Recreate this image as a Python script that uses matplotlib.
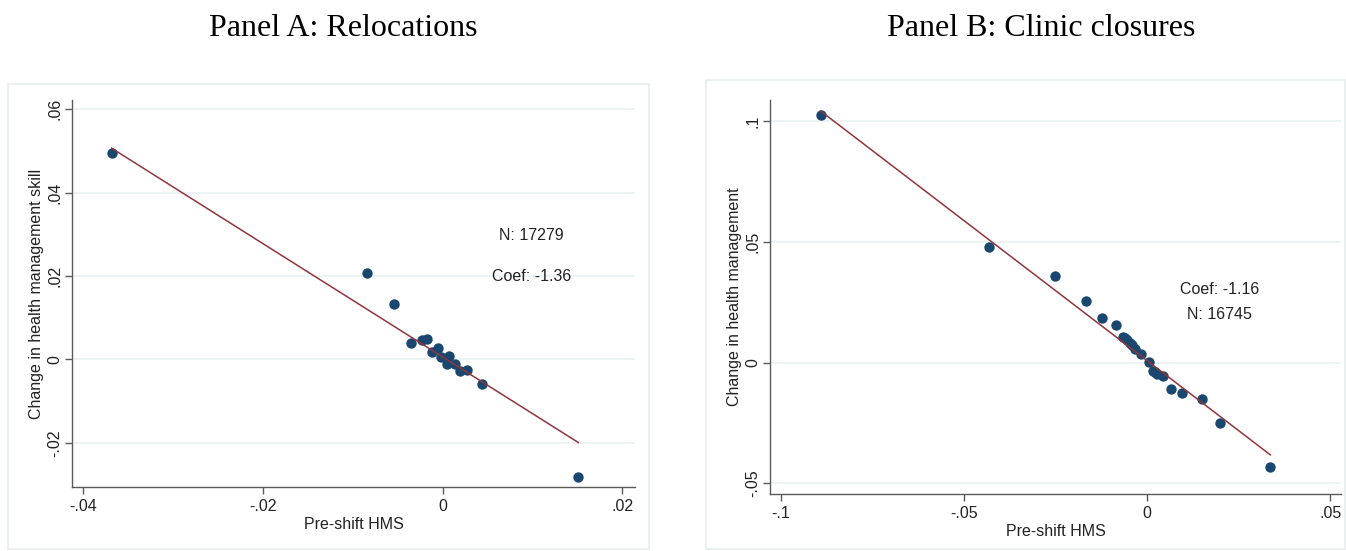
import numpy as np
import matplotlib.pyplot as plt
from matplotlib.patches import Rectangle

plt.rcParams['font.family'] = ['Liberation Sans', 'DejaVu Sans']

# Panel A: relocations (binned scatter)
a_x = [-0.0368, -0.0084, -0.0054, -0.0035, -0.0023, -0.0017, -0.0012, -0.0005,
       -0.0002, 0.0007, 0.0005, 0.0014, 0.0019, 0.0027, 0.0044, 0.0151]
a_y = [0.0496, 0.0208, 0.0133, 0.0039, 0.0047, 0.0049, 0.0017, 0.0028,
       0.0006, 0.0009, -0.0010, -0.0010, -0.0028, -0.0026, -0.0059, -0.0282]
a_slope, a_intercept = -1.36, 0.0006
a_n = 17279
a_xticks = [-0.04, -0.02, 0, 0.02]
a_xlabels = ['-.04', '-.02', '0', '.02']
a_yticks = [-0.02, 0, 0.02, 0.04, 0.06]
a_ylabels = ['-.02', '0', '.02', '.04', '.06']

# Panel B: clinic closures
b_x = [-0.0891, -0.0432, -0.0251, -0.0168, -0.0123, -0.0086, -0.0067, -0.0060,
       -0.0055, -0.0046, -0.0040, -0.0032, -0.0016, 0.0004, 0.0015, 0.0022,
       0.0027, 0.0044, 0.0064, 0.0095, 0.0149, 0.0200, 0.0336]
b_y = [0.1023, 0.0477, 0.0360, 0.0257, 0.0184, 0.0156, 0.0105, 0.0102,
       0.0094, 0.0083, 0.0073, 0.0055, 0.0034, 0.0001, -0.0033, -0.0040,
       -0.0047, -0.0054, -0.0110, -0.0127, -0.0150, -0.0251, -0.0431]
b_slope, b_intercept = -1.16, 0.0008
b_n = 16745
b_xticks = [-0.1, -0.05, 0, 0.05]
b_xlabels = ['-.1', '-.05', '0', '.05']
b_yticks = [-0.05, 0, 0.05, 0.1]
b_ylabels = ['-.05', '0', '.05', '.1']

navy = '#1a476f'
maroon = '#90353b'
grid_col = '#eaf0f2'
axis_col = '#5a5a5a'

fig = plt.figure(figsize=(13.46, 5.51), dpi=100)
W, H = 1346, 551


def fx(px):
    return px / W


def fy(py):
    return 1 - py / H


# panel frames
fig.patches.append(Rectangle((fx(8), fy(549)), fx(649 - 8), (549 - 84) / H,
                             transform=fig.transFigure, fill=False,
                             edgecolor='#e6ecee', lw=1.2))
fig.patches.append(Rectangle((fx(706), fy(549)), fx(1345 - 706), (549 - 80) / H,
                             transform=fig.transFigure, fill=False,
                             edgecolor='#e6ecee', lw=1.2))

fig.text(fx(343), fy(28), 'Panel A: Relocations', family='Liberation Serif',
         fontsize=23, ha='center', va='center')
fig.text(fx(1041), fy(28), 'Panel B: Clinic closures', family='Liberation Serif',
         fontsize=23, ha='center', va='center')


def panel(rect, xs, ys, slope, icpt, xlim, ylim, xt, xl, yt, yl, ylab, texts):
    ax = fig.add_axes(rect)
    ax.set_xlim(xlim)
    ax.set_ylim(ylim)
    for v in yt:
        ax.axhline(v, color=grid_col, lw=1.2, zorder=0)
    ax.scatter(xs, ys, s=56, color=navy, zorder=3, linewidths=0)
    lx = np.array([min(xs), max(xs)])
    ax.plot(lx, icpt + slope * lx, color=maroon, lw=1.1, zorder=4)
    ax.set_xticks(xt)
    ax.set_xticklabels(xl)
    ax.set_yticks(yt)
    ax.set_yticklabels(yl, rotation=90, va='center')
    for s in ['top', 'right']:
        ax.spines[s].set_visible(False)
    for s in ['left', 'bottom']:
        ax.spines[s].set_color(axis_col)
        ax.spines[s].set_linewidth(1.0)
    ax.tick_params(colors=axis_col, labelcolor='#222222', labelsize=11.5,
                   length=5, width=1.0)
    ax.tick_params(axis='y', pad=2)
    ax.set_xlabel('Pre-shift HMS', fontsize=11.5, color='#222222', labelpad=2)
    ax.set_ylabel(ylab, fontsize=11.5, color='#222222', labelpad=2)
    for (tx, ty, s) in texts:
        ax.text(tx, ty, s, fontsize=11.5, ha='center', va='center', color='#222222')
    return ax


panel([fx(72), fy(487), fx(635 - 72), (487 - 100) / H],
      a_x, a_y, a_slope, a_intercept,
      (-0.0412, 0.0214), (-0.0306, 0.0622),
      a_xticks, a_xlabels, a_yticks, a_ylabels,
      'Change in health management skill',
      [(0.0099, 0.0296, f'N: {a_n}'), (0.0099, 0.0198, f'Coef: {a_slope:.2f}')])

panel([fx(770), fy(494), fx(1341 - 770), (494 - 100) / H],
      b_x, b_y, b_slope, b_intercept,
      (-0.1029, 0.0529), (-0.0544, 0.1087),
      b_xticks, b_xlabels, b_yticks, b_ylabels,
      'Change in health management',
      [(0.0198, 0.0301, f'Coef: {b_slope:.2f}'), (0.0198, 0.0197, f'N: {b_n}')])

fig.savefig('out.png', dpi=100)
